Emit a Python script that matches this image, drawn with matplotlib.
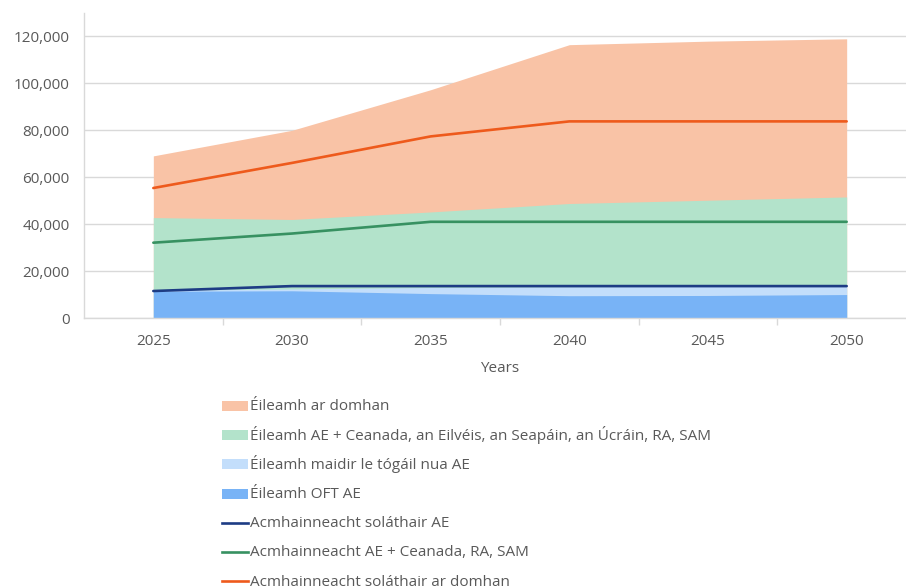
import matplotlib.pyplot as plt
from matplotlib.patches import Rectangle
from matplotlib.lines import Line2D
from matplotlib.ticker import FuncFormatter, FixedLocator

plt.rcParams['font.family'] = ['Open Sans', 'DejaVu Sans']

# Data
years = [2025, 2030, 2035, 2040, 2045, 2050]
demand_world = [69100, 80000, 97300, 116500, 118000, 119000]
demand_eu_plus = [42800, 42000, 45200, 48800, 50200, 51600]
demand_eu_newbuild = [11800, 12400, 13000, 13300, 13500, 13600]
demand_eu_oft = [11400, 11600, 10400, 9500, 9600, 10000]
supply_eu = [11500, 13600, 13600, 13600, 13600, 13600]
supply_eu_plus = [32100, 36000, 41000, 41000, 41000, 41000]
supply_world = [55400, 66100, 77400, 83800, 83800, 83800]

area_labels = ["Éileamh ar domhan",
               "Éileamh AE + Ceanada, an Eilvéis, an Seapáin, an Úcráin, RA, SAM",
               "Éileamh maidir le tógáil nua AE",
               "Éileamh OFT AE"]
line_labels = ["Acmhainneacht soláthair AE",
               "Acmhainneacht AE + Ceanada, RA, SAM",
               "Acmhainneacht soláthair ar domhan"]

area_colors = ['#F9C3A6', '#B3E3CB', '#C3DEFB', '#78B3F6']
line_colors = ['#1D3C84', '#379161', '#EE5A1C']

text_col = '#595959'
grid_col = '#D9D9D9'
W, H = 906, 588

fig = plt.figure(figsize=(W / 100, H / 100), dpi=100)
ax = fig.add_axes([84 / W, 1 - 318 / H, 832 / W, 305 / H])

areas = [demand_world, demand_eu_plus, demand_eu_newbuild, demand_eu_oft]
for vals, c in zip(areas, area_colors):
    ax.fill_between(years, 0, vals, color=c, linewidth=0, zorder=2)

lines = [supply_eu, supply_eu_plus, supply_world]
for vals, c in zip(lines, line_colors):
    ax.plot(years, vals, color=c, linewidth=1.9, zorder=3, solid_capstyle='round')

ax.set_xlim(2022.5, 2052.5)
ax.set_ylim(0, 130000)
ax.set_yticks(range(0, 120001, 20000))
ax.yaxis.set_major_formatter(FuncFormatter(lambda v, p: f"{int(v):,}"))
ax.set_xticks(years)
ax.xaxis.set_minor_locator(FixedLocator([2027.5, 2032.5, 2037.5, 2042.5, 2047.5]))
ax.tick_params(axis='x', which='major', length=0, labelsize=11, labelcolor=text_col, pad=11.5)
ax.tick_params(axis='x', which='minor', length=5, color=grid_col, width=1)
ax.tick_params(axis='y', length=0, labelsize=11, labelcolor=text_col, pad=10.5)
ax.grid(axis='y', color=grid_col, linewidth=1, zorder=0)
ax.set_axisbelow(True)
for s in ['top', 'right']:
    ax.spines[s].set_visible(False)
for s in ['left', 'bottom']:
    ax.spines[s].set_color(grid_col)
    ax.spines[s].set_linewidth(1)

ax.set_xlabel("Years", fontsize=11, color=text_col, labelpad=9)

# legend drawn by hand so the rows keep an even spacing
labels = area_labels + line_labels
colors = area_colors + line_colors
for i, (lab, c) in enumerate(zip(labels, colors)):
    yc = 1 - (406 + i * 29.2) / H
    if i < len(area_labels):
        fig.add_artist(Rectangle((222 / W, yc - 5 / H), 26 / W, 10 / H,
                                 facecolor=c, edgecolor='none',
                                 transform=fig.transFigure))
    else:
        fig.add_artist(Line2D([222 / W, 248 / W], [yc, yc], color=c,
                              linewidth=1.9, transform=fig.transFigure))
    fig.text(250 / W, yc - 4.5 / H, lab, fontsize=11, color=text_col,
             va='baseline', ha='left')

fig.savefig('out.png', dpi=100)
